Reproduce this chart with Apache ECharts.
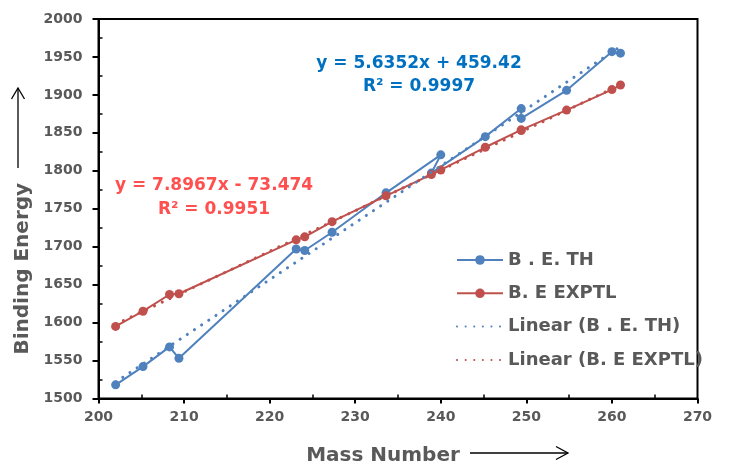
<!DOCTYPE html>
<html>
<head>
<meta charset="utf-8">
<script src="https://cdn.jsdelivr.net/npm/echarts@6/dist/echarts.min.js"></script>
<style>html,body{margin:0;padding:0;background:#fff}#c{width:744px;height:464px}</style>
</head>
<body>
<div id="c"></div>
<script>
// Mass number positions as they appear on the picture's x axis
var massNumber = [202.0, 205.2, 208.3, 209.4, 223.1, 224.1, 227.3, 233.6, 240.0, 238.9, 245.2, 249.4, 249.4, 254.7, 260.0, 261.0];
var beTH      = [1518, 1542, 1568, 1553, 1697, 1695, 1719, 1771, 1821, 1797, 1845, 1882, 1869, 1906, 1957, 1955];
var beEXPTL   = [1595, 1615, 1637, 1638, 1709, 1713, 1733, 1767, 1801, 1795, 1831, 1854, 1853, 1880, 1907, 1913];
// trendline end points
var trendTHx = [202, 261];
var trendTHy = [1521.6, 1963.9];
var trendEXx = [202, 261];
var trendEXy = [1597.7, 1913.3];
var xTicks = [200, 210, 220, 230, 240, 250, 260, 270];
var yTicks = [1500, 1550, 1600, 1650, 1700, 1750, 1800, 1850, 1900, 1950, 2000];
var seriesNames = ['B . E. TH', 'B. E EXPTL', 'Linear (B . E. TH)', 'Linear (B. E EXPTL)'];
var eqTH = ['y = 5.6352x + 459.42', 'R\u00b2 = 0.9997'];
var eqEX = ['y = 7.8967x - 73.474', 'R\u00b2 = 0.9951'];

function pairs(xs, ys) { return xs.map(function (x, i) { return [x, ys[i]]; }); }

var FONT = 'DejaVu Sans';
var GRAY = '#595959';
var BLUE = '#4F81BD', RED = '#C0504D';

var chart = echarts.init(document.getElementById('c'), null, {renderer: 'canvas'});
chart.setOption({
  backgroundColor: '#fff',
  animation: false,
  grid: {left: 98.5, right: 46.5, top: 19, bottom: 65.5, containLabel: false, outerBoundsMode: 'none',
         show: true, borderColor: '#000', borderWidth: 2, backgroundColor: 'transparent'},
  legend: {
    orient: 'vertical', left: 451, top: 245,
    itemWidth: 46, itemHeight: 12, itemGap: 13.3,
    textStyle: {fontFamily: FONT, fontWeight: 'bold', fontSize: 18, color: GRAY, lineHeight: 20},
    data: [
      {name: seriesNames[0]},
      {name: seriesNames[1]},
      {name: seriesNames[2], itemStyle: {opacity: 0}},
      {name: seriesNames[3], itemStyle: {opacity: 0}}
    ]
  },
  xAxis: {
    type: 'value', min: xTicks[0], max: xTicks[xTicks.length - 1], interval: 10,
    name: 'Mass Number', nameLocation: 'middle', nameGap: 47,
    nameTextStyle: {fontFamily: FONT, fontWeight: 'bold', fontSize: 20, color: GRAY, padding: [0, 30, 0, 0]},
    axisLine: {lineStyle: {color: '#000', width: 2}},
    axisTick: {show: true, length: 5, lineStyle: {color: '#000', width: 2}},
    minorTick: {show: true, splitNumber: 2, length: -4, lineStyle: {color: '#000', width: 1.5}},
    splitLine: {show: false},
    axisLabel: {fontFamily: FONT, fontWeight: 'bold', fontSize: 14, color: GRAY, margin: 12,
      formatter: function (v) { return String(v); }}
  },
  yAxis: {
    type: 'value', min: yTicks[0], max: yTicks[yTicks.length - 1], interval: 50,
    name: 'Binding Energy', nameLocation: 'middle', nameGap: 61,
    nameTextStyle: {fontFamily: FONT, fontWeight: 'bold', fontSize: 20, color: GRAY, padding: [0, 0, 0, -120]},
    axisLine: {lineStyle: {color: '#000', width: 2}},
    axisTick: {show: true, length: 6, lineStyle: {color: '#000', width: 2}},
    minorTick: {show: true, splitNumber: 2, length: -4, lineStyle: {color: '#000', width: 1.5}},
    splitLine: {show: false},
    axisLabel: {fontFamily: FONT, fontWeight: 'bold', fontSize: 14, color: GRAY, margin: 16,
      formatter: function (v) { return String(v); }}
  },
  series: [
    {name: seriesNames[0], type: 'line', data: pairs(massNumber, beTH), symbol: 'circle', symbolSize: 9,
     itemStyle: {color: BLUE}, lineStyle: {color: BLUE, width: 2}, z: 2},
    {name: seriesNames[1], type: 'line', data: pairs(massNumber, beEXPTL), symbol: 'circle', symbolSize: 9,
     itemStyle: {color: RED}, lineStyle: {color: RED, width: 2}, z: 3},
    {name: seriesNames[2], type: 'line', data: pairs(trendTHx, trendTHy), showSymbol: false, symbol: 'none',
     itemStyle: {color: BLUE}, lineStyle: {color: BLUE, width: 3, type: [0.1, 8.5], cap: 'round'}, z: 4},
    {name: seriesNames[3], type: 'line', data: pairs(trendEXx, trendEXy), showSymbol: false, symbol: 'none',
     itemStyle: {color: RED}, lineStyle: {color: RED, width: 3, type: [0.1, 8.5], cap: 'round'}, z: 4}
  ],
  graphic: [
    {type: 'text', x: 419, y: 64, style: {text: eqTH[0], fill: '#0070C0', font: 'bold 17px "DejaVu Sans"', textAlign: 'center', textVerticalAlign: 'middle'}},
    {type: 'text', x: 419, y: 87, style: {text: eqTH[1], fill: '#0070C0', font: 'bold 17px "DejaVu Sans"', textAlign: 'center', textVerticalAlign: 'middle'}},
    {type: 'text', x: 214, y: 186, style: {text: eqEX[0], fill: '#FF5050', font: 'bold 17px "DejaVu Sans"', textAlign: 'center', textVerticalAlign: 'middle'}},
    {type: 'text', x: 214, y: 210, style: {text: eqEX[1], fill: '#FF5050', font: 'bold 17px "DejaVu Sans"', textAlign: 'center', textVerticalAlign: 'middle'}},
    // arrows beside axis titles
    {type: 'line', shape: {x1: 18, y1: 168, x2: 18, y2: 88}, style: {stroke: '#000', lineWidth: 1.3}},
    {type: 'polyline', shape: {points: [[11.5, 99], [18, 88], [24.5, 99]]}, style: {stroke: '#000', fill: null, lineWidth: 1.3}},
    {type: 'line', shape: {x1: 470, y1: 453, x2: 568, y2: 453}, style: {stroke: '#000', lineWidth: 1.3}},
    {type: 'polyline', shape: {points: [[556, 446.5], [568, 453], [556, 459.5]]}, style: {stroke: '#000', fill: null, lineWidth: 1.3}}
  ]
});
</script>
</body>
</html>
